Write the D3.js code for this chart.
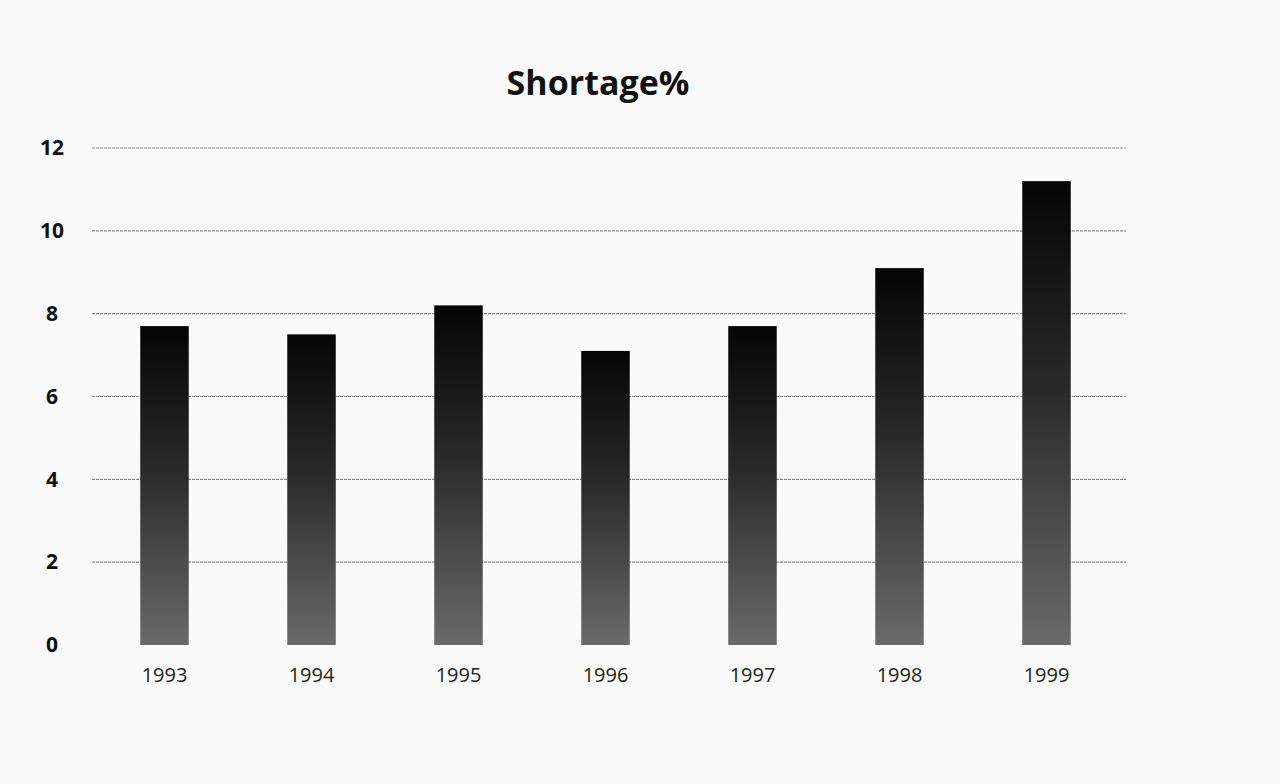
<!DOCTYPE html>
<html>
<head>
<meta charset="utf-8">
<script src="https://cdn.jsdelivr.net/npm/d3@7"></script>
<style>
  html, body { margin: 0; padding: 0; background: #fafafa; }
  svg { display: block; }
</style>
</head>
<body>
<svg id="chart" width="1280" height="784"></svg>
<script>
const categories = ["1993", "1994", "1995", "1996", "1997", "1998", "1999"];
const shortage = [7.7, 7.5, 8.2, 7.1, 7.7, 9.1, 11.2];
const yTicks = [0, 2, 4, 6, 8, 10, 12];
const title = "Shortage%";

const svg = d3.select("#chart");
const W = 1280, H = 784;
svg.append("rect").attr("width", W).attr("height", H).attr("fill", "#fafafa");

const defs = svg.append("defs");
const grad = defs.append("linearGradient")
  .attr("id", "barGrad").attr("x1", 0).attr("y1", 0).attr("x2", 0).attr("y2", 1);
grad.append("stop").attr("offset", "0%").attr("stop-color", "#050505");
grad.append("stop").attr("offset", "45%").attr("stop-color", "#2a2a2a");
grad.append("stop").attr("offset", "100%").attr("stop-color", "#6a6a6a");

const x = d3.scaleBand().domain(categories).range([91, 1120]).paddingInner(0.67).paddingOuter(0.335);
const y = d3.scaleLinear().domain([0, 12]).range([645, 148]);

// gridlines
const grid = svg.append("g").attr("class", "grid");
grid.selectAll("line").data(yTicks.filter(d => d > 0)).join("line")
  .attr("x1", 92).attr("x2", 1126)
  .attr("y1", d => y(d)).attr("y2", d => y(d))
  .attr("stroke", "#8a8a8a").attr("stroke-width", 1.2)
  .attr("stroke-dasharray", "3,1");

// y axis labels
const yAxis = d3.axisLeft(y).tickValues(yTicks).tickSize(0).tickPadding(0);
const yg = svg.append("g").attr("transform", "translate(62,0)").call(yAxis);
yg.select(".domain").remove();
yg.selectAll("text")
  .attr("font-family", "'Open Sans', 'Liberation Sans', sans-serif")
  .attr("font-weight", "bold").attr("font-size", 21).attr("fill", "#111")
  .attr("text-anchor", "middle").attr("x", -10);

// bars
svg.append("g").selectAll("rect").data(categories).join("rect")
  .attr("x", d => x(d))
  .attr("width", x.bandwidth())
  .attr("y", (d, i) => y(shortage[i]))
  .attr("height", (d, i) => y(0) - y(shortage[i]))
  .attr("fill", "url(#barGrad)");

// x axis labels
const xAxis = d3.axisBottom(x).tickSize(0).tickPadding(0);
const xg = svg.append("g").attr("transform", "translate(0,668)").call(xAxis);
xg.select(".domain").remove();
xg.selectAll("text")
  .attr("font-family", "'Open Sans', 'Liberation Sans', sans-serif")
  .attr("font-size", 20).attr("fill", "#222").attr("dy", "0.7em");

// title
svg.append("text")
  .attr("x", 598).attr("y", 95)
  .attr("text-anchor", "middle")
  .attr("font-family", "'Open Sans', 'Liberation Sans', sans-serif")
  .attr("font-weight", "bold").attr("font-size", 34).attr("fill", "#111")
  .text(title);
</script>
</body>
</html>
